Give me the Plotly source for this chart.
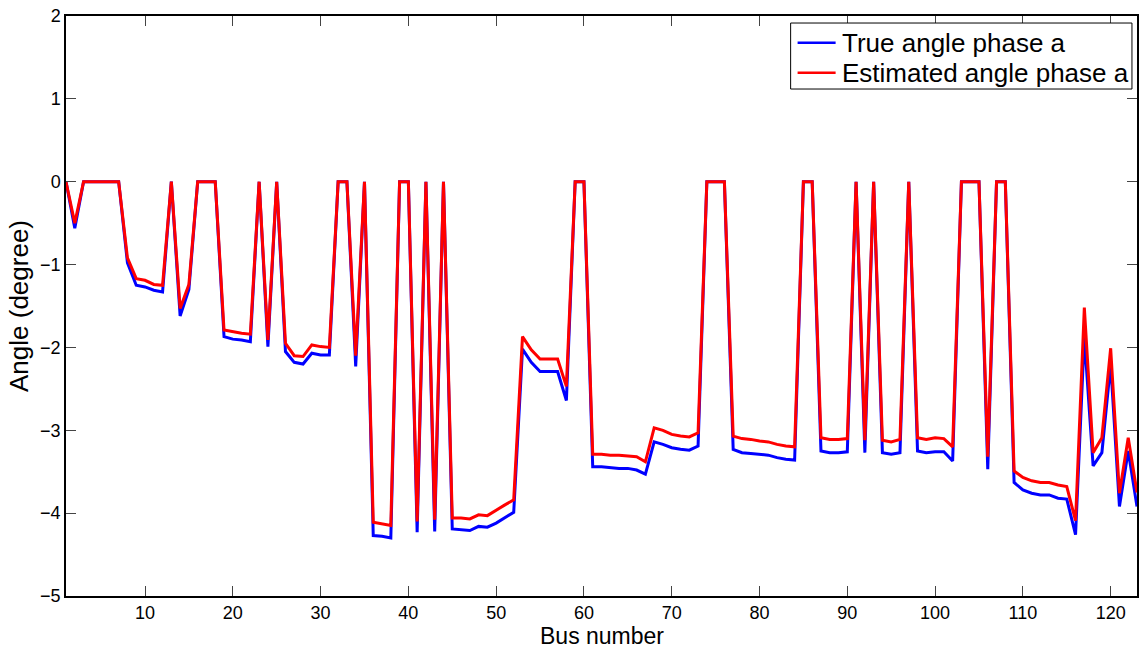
import plotly.graph_objects as go

# Bus numbers 1..123
bus = list(range(1, 124))

# True phase-a voltage angle per bus (degrees)
true_angle = [
    0, -0.56, 0, 0, 0, 0, 0, -0.98, -1.25, -1.27,
    -1.31, -1.33, 0, -1.62, -1.30, 0, 0, 0, -1.87, -1.90,
    -1.91, -1.93, 0, -1.99, 0, -2.05, -2.18, -2.20, -2.07, -2.09,
    -2.09, 0, 0, -2.23, 0, -4.27, -4.28, -4.30, 0, 0,
    -4.23, 0, -4.22, 0, -4.19, -4.20, -4.21, -4.16, -4.17, -4.12,
    -4.06, -3.99, -2.02, -2.18, -2.29, -2.29, -2.29, -2.64, 0, 0,
    -3.44, -3.44, -3.45, -3.46, -3.46, -3.48, -3.53, -3.14, -3.17, -3.21,
    -3.23, -3.24, -3.19, 0, 0, 0, -3.23, -3.27, -3.28, -3.29,
    -3.30, -3.33, -3.35, -3.36, 0, 0, -3.25, -3.27, -3.27, -3.26,
    0, -3.27, 0, -3.27, -3.29, -3.27, 0, -3.25, -3.27, -3.26,
    -3.26, -3.37, 0, 0, 0, -3.47, 0, 0, -3.63, -3.72,
    -3.76, -3.78, -3.78, -3.82, -3.83, -4.26, -1.87, -3.43, -3.27, -2.20,
    -3.92, -3.25, -3.92,
]

# Estimated phase-a voltage angle per bus (degrees)
est_angle = [
    0, -0.50, 0, 0, 0, 0, 0, -0.92, -1.17, -1.19,
    -1.24, -1.25, 0, -1.53, -1.24, 0, 0, 0, -1.79, -1.81,
    -1.83, -1.84, 0, -1.91, 0, -1.95, -2.10, -2.11, -1.97, -1.99,
    -2.00, 0, 0, -2.10, 0, -4.11, -4.13, -4.15, 0, 0,
    -4.10, 0, -4.08, 0, -4.06, -4.06, -4.07, -4.02, -4.03, -3.96,
    -3.90, -3.84, -1.87, -2.03, -2.14, -2.14, -2.14, -2.47, 0, 0,
    -3.29, -3.29, -3.30, -3.30, -3.31, -3.32, -3.38, -2.97, -3.00, -3.05,
    -3.07, -3.08, -3.03, 0, 0, 0, -3.07, -3.10, -3.11, -3.13,
    -3.14, -3.17, -3.19, -3.20, 0, 0, -3.09, -3.11, -3.11, -3.10,
    0, -3.12, 0, -3.12, -3.14, -3.11, 0, -3.09, -3.11, -3.09,
    -3.10, -3.20, 0, 0, 0, -3.32, 0, 0, -3.49, -3.57,
    -3.61, -3.63, -3.63, -3.66, -3.68, -4.09, -1.52, -3.27, -3.09, -2.01,
    -3.76, -3.09, -3.75,
]

x_ticks = [10, 20, 30, 40, 50, 60, 70, 80, 90, 100, 110, 120]
y_ticks = [-5, -4, -3, -2, -1, 0, 1, 2]

series_names = ["True angle phase a", "Estimated angle phase a"]
series_colors = ["#0000FF", "#FF0000"]

FONT = "Liberation Sans, Arial, Helvetica, sans-serif"

fig = go.Figure()
for name, color, values in zip(series_names, series_colors, [true_angle, est_angle]):
    fig.add_trace(go.Scatter(
        x=bus, y=values, mode="lines", name=name,
        line=dict(color=color, width=3),
    ))

axis_common = dict(
    showline=True, linecolor="black", linewidth=1.5, mirror="ticks",
    ticks="inside", ticklen=10, tickwidth=1, tickcolor="#444444",
    showgrid=False, zeroline=False,
    tickfont=dict(family=FONT, size=18, color="black"),
)

# Compact boxed legend in the upper-right corner (paper coordinates)
leg_x0, leg_x1 = 0.6766, 0.9953
leg_y0, leg_y1 = 0.8741, 0.9879
row_y = [0.954, 0.9022]
sample_x0, sample_x1, text_x = 0.6831, 0.7186, 0.7226

shapes = [dict(
    type="rect", xref="paper", yref="paper",
    x0=leg_x0, x1=leg_x1, y0=leg_y0, y1=leg_y1,
    line=dict(color="black", width=1), fillcolor="white", layer="above",
)]
annotations = []
for name, color, ry in zip(series_names, series_colors, row_y):
    shapes.append(dict(
        type="line", xref="paper", yref="paper",
        x0=sample_x0, x1=sample_x1, y0=ry, y1=ry,
        line=dict(color=color, width=2.5), layer="above",
    ))
    annotations.append(dict(
        text=name, xref="paper", yref="paper", x=text_x, y=ry,
        xanchor="left", yanchor="middle", showarrow=False,
        font=dict(family=FONT, size=26, color="black"),
    ))

# x-axis title placed just below the tick labels
annotations.append(dict(
    text="Bus number", xref="paper", yref="paper", x=0.5, y=-0.069,
    xanchor="center", yanchor="middle", showarrow=False, borderpad=0,
    font=dict(family=FONT, size=23, color="black"),
))

fig.update_layout(
    width=1139, height=648,
    margin=dict(l=66, r=0, t=16, b=52),
    paper_bgcolor="white", plot_bgcolor="white",
    font=dict(family=FONT, color="black"),
    xaxis=dict(
        range=[1, 123], tickvals=x_ticks,
        **axis_common,
    ),
    yaxis=dict(
        range=[-5, 2], tickvals=y_ticks,
        title=dict(text="Angle (degree)", font=dict(family=FONT, size=26), standoff=4),
        **axis_common,
    ),
    shapes=shapes,
    annotations=annotations,
    showlegend=False,
)

fig.write_html("out.html")
